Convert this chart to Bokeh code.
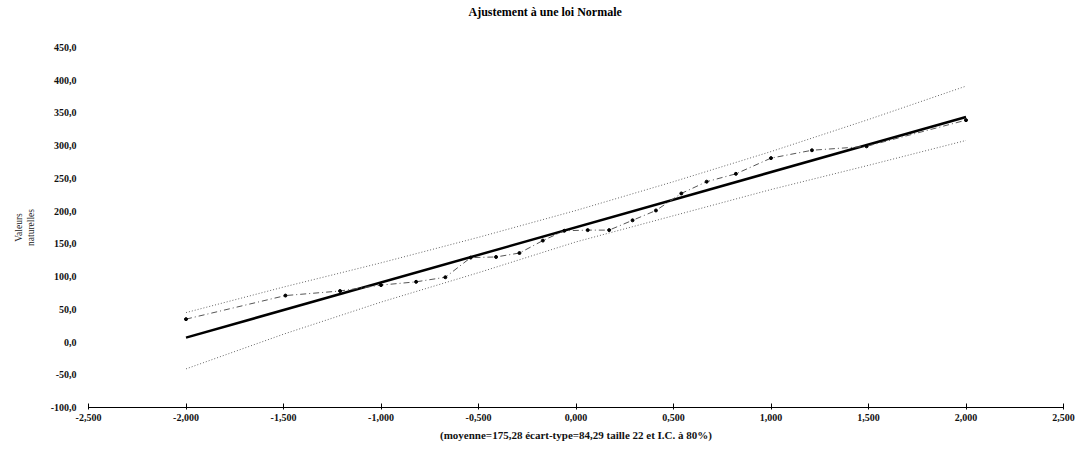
from bokeh.plotting import figure
from bokeh.models import FixedTicker, CustomJSTickFormatter, Range1d, Title
from bokeh.embed import file_html
from bokeh.resources import INLINE

# Normal quantiles (x) and sorted observed values (y)
quantiles = [-2.00, -1.49, -1.21, -1.00, -0.82, -0.67, -0.54, -0.41, -0.29, -0.17, -0.06,
             0.06, 0.17, 0.29, 0.41, 0.54, 0.67, 0.82, 1.00, 1.21, 1.49, 2.00]
values = [35, 71, 78, 87, 92, 99, 129, 130, 136, 155, 170,
          171, 171, 186, 201, 227, 245, 257, 281, 293, 299, 339]

# Fitted normal line (moyenne 175,28, écart-type 84,29)
fit_x = [-2.0, 2.0]
fit_y = [6.7, 343.9]

# 80% confidence band
band_x = [-2.0, -1.5, -1.0, -0.5, 0.0, 0.5, 1.0, 1.5, 2.0]
band_hi = [45, 84, 121, 160, 201, 245, 291, 340, 391]
band_lo = [-41, 12, 61, 106, 153, 193, 233, 270, 308]

x_ticks = [-2.5, -2.0, -1.5, -1.0, -0.5, 0.0, 0.5, 1.0, 1.5, 2.0, 2.5]
y_ticks = [-100, -50, 0, 50, 100, 150, 200, 250, 300, 350, 400, 450]

title_text = "Ajustement à une loi Normale"
x_label = "(moyenne=175,28 écart-type=84,29 taille 22 et I.C. à 80%)"
y_label = "Valeurs\nnaturelles"

FONT = "Liberation Serif"

p = figure(width=1082, height=446, output_backend="svg", toolbar_location=None,
           x_range=Range1d(-2.5, 2.5), y_range=Range1d(-100, 450),
           min_border_left=88, min_border_right=19, min_border_top=46, min_border_bottom=39)

p.title.text = ""
p.title.standoff = 0

# spacer between the title and the plot area
spacer = Title(text=" ", text_font=FONT, text_font_size="12px", standoff=11)
p.add_layout(spacer, "above")
main_title = Title(text=title_text, align="left", offset=380, standoff=4,
                   text_font=FONT, text_font_size="12px", text_font_style="bold",
                   text_color="black")
p.add_layout(main_title, "above")

p.grid.visible = False
p.outline_line_color = None
p.background_fill_color = "white"
p.border_fill_color = "white"

# Axes
xa = p.xaxis[0]
xa.ticker = FixedTicker(ticks=x_ticks)
xa.formatter = CustomJSTickFormatter(code="return tick.toFixed(3).replace('.', ',');")
xa.axis_line_color = "black"
xa.axis_line_width = 1.2
xa.major_tick_in = 4
xa.major_tick_out = 2
xa.minor_tick_line_color = None
xa.major_label_text_font = FONT
xa.major_label_text_font_size = "10px"
xa.major_label_text_font_style = "bold"
xa.major_label_text_color = "#111111"
xa.major_label_standoff = 4
xa.axis_label = x_label
xa.axis_label_text_font = FONT
xa.axis_label_text_font_size = "11px"
xa.axis_label_text_font_style = "bold"
xa.axis_label_text_color = "#111111"
xa.axis_label_standoff = 5

ya = p.yaxis[0]
ya.ticker = FixedTicker(ticks=y_ticks)
ya.formatter = CustomJSTickFormatter(code="return tick.toFixed(1).replace('.', ',');")
ya.axis_line_color = None
ya.major_tick_line_color = None
ya.minor_tick_line_color = None
ya.major_label_text_font = FONT
ya.major_label_text_font_size = "10px"
ya.major_label_text_font_style = "bold"
ya.major_label_text_color = "#111111"
ya.major_label_standoff = 6
ya.axis_label = y_label
ya.axis_label_text_font = FONT
ya.axis_label_text_font_size = "9.5px"
ya.axis_label_text_font_style = "normal"
ya.axis_label_text_color = "#222222"
ya.axis_label_standoff = 12

# Confidence band
p.line(band_x, band_hi, line_color="#666666", line_width=1, line_dash="1 2")
p.line(band_x, band_lo, line_color="#666666", line_width=1, line_dash="1 2")

# Fitted line
p.line(fit_x, fit_y, line_color="black", line_width=2.5)

# Observed values
p.line(quantiles, values, line_color="#555555", line_width=1, line_dash="6 3 1 3")
p.scatter(quantiles, values, marker="circle", size=3, fill_color="black", line_color="black")

open("out.html", "w").write(file_html(p, INLINE))
